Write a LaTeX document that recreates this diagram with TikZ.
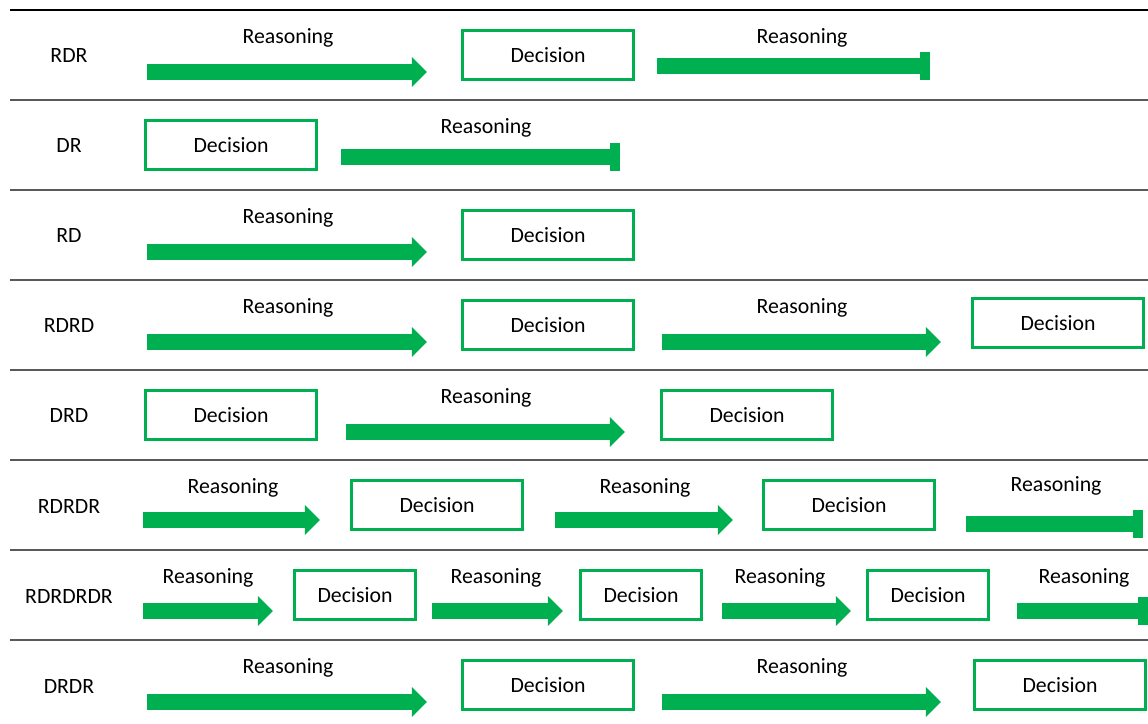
\documentclass[tikz,border=0pt]{standalone}
\usepackage{fontspec}
\setmainfont{Carlito}
\usetikzlibrary{arrows.meta}
\definecolor{ogreen}{HTML}{00B050}
\definecolor{rulegray}{HTML}{595959}

\begin{document}
\begin{tikzpicture}[x=0.025cm,y=-0.025cm,
    txt/.style={font=\fontsize{15.5}{18}\selectfont},
    dec/.style={txt,draw=ogreen,line width=2.6pt,minimum width=121.5pt,minimum height=35pt,inner sep=0pt},
    decs/.style={dec,minimum width=86pt},
    reas/.style={ogreen,line width=10.7pt,-{Triangle[width=20.6pt,length=10.7pt]}},
    reasend/.style={ogreen,line width=10.7pt,-{Rectangle[width=20.6pt,length=7.1pt]}}]
  \useasboundingbox (0,0) rectangle (1148,723);
  % rules between the rows
  \draw[black,line width=0.9pt] (10,10)--(1148,10);
  \foreach \y in {100,190,280,370,460,550,640}
    \draw[rulegray,line width=1.3pt] (10,\y)--(1148,\y);

  % RDR
  \node[txt] (l1) at (69,56) {RDR};
  \node[txt] (r11) at (288,38) {Reasoning};
  \draw[reas] (147,72)--(427,72);
  \node[dec] (d11) at (548,55) {Decision};
  \node[txt] (r12) at (802,38) {Reasoning};
  \draw[reasend] (657,66)--(930,66);

  % DR
  \node[txt] (l2) at (69,146) {DR};
  \node[dec] (d21) at (231,145) {Decision};
  \node[txt] (r21) at (486,128) {Reasoning};
  \draw[reasend] (341,157)--(620,157);

  % RD
  \node[txt] (l3) at (69,236) {RD};
  \node[txt] (r31) at (288,218) {Reasoning};
  \draw[reas] (147,252)--(427,252);
  \node[dec] (d31) at (548,235) {Decision};

  % RDRD
  \node[txt] (l4) at (69,326) {RDRD};
  \node[txt] (r41) at (288,308) {Reasoning};
  \draw[reas] (147,342)--(427,342);
  \node[dec] (d41) at (548,325) {Decision};
  \node[txt] (r42) at (802,308) {Reasoning};
  \draw[reas] (662,342)--(941,342);
  \node[dec] (d42) at (1058,323) {Decision};

  % DRD
  \node[txt] (l5) at (69,416) {DRD};
  \node[dec] (d51) at (231,415) {Decision};
  \node[txt] (r51) at (486,398) {Reasoning};
  \draw[reas] (346,432)--(625,432);
  \node[dec] (d52) at (747,415) {Decision};

  % RDRDR
  \node[txt] (l6) at (69,506) {RDRDR};
  \node[txt] (r61) at (233,488) {Reasoning};
  \draw[reas] (143,520)--(320,520);
  \node[dec] (d61) at (437,505) {Decision};
  \node[txt] (r62) at (645,488) {Reasoning};
  \draw[reas] (555,520)--(733,520);
  \node[dec] (d62) at (849,505) {Decision};
  \node[txt] (r63) at (1056,486) {Reasoning};
  \draw[reasend] (966,524)--(1143,524);

  % RDRDRDR
  \node[txt] (l7) at (69,596) {RDRDRDR};
  \node[txt] (r71) at (208,578) {Reasoning};
  \draw[reas] (143,611)--(273,611);
  \node[decs] (d71) at (355,595) {Decision};
  \node[txt] (r72) at (496,578) {Reasoning};
  \draw[reas] (432,611)--(563,611);
  \node[decs] (d72) at (641,595) {Decision};
  \node[txt] (r73) at (780,578) {Reasoning};
  \draw[reas] (722,611)--(851,611);
  \node[decs] (d73) at (928,595) {Decision};
  \node[txt] (r74) at (1084,578) {Reasoning};
  \draw[reasend] (1017,611)--(1148,611);

  % DRDR
  \node[txt] (l8) at (69,686) {DRDR};
  \node[txt] (r81) at (288,668) {Reasoning};
  \draw[reas] (147,702)--(427,702);
  \node[dec] (d81) at (548,685) {Decision};
  \node[txt] (r82) at (802,668) {Reasoning};
  \draw[reas] (662,702)--(941,702);
  \node[dec] (d82) at (1060,685) {Decision};
\end{tikzpicture}
\end{document}
